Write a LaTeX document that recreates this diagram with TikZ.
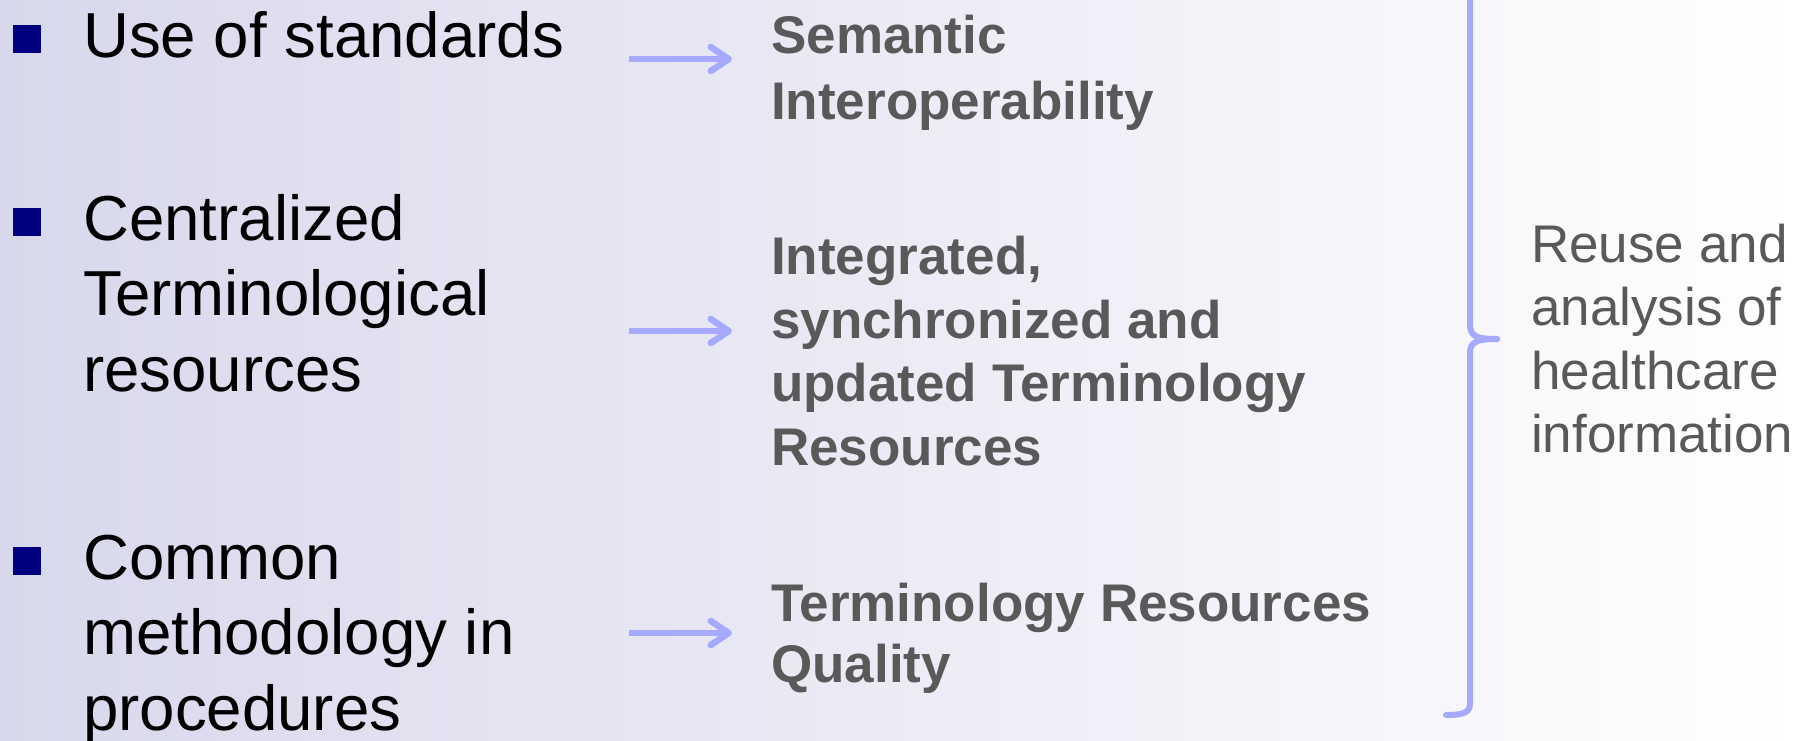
\documentclass[tikz,border=0pt]{standalone}
\usepackage{fontspec}
\setmainfont{Liberation Sans}
\usetikzlibrary{arrows.meta}
\definecolor{bulletblue}{RGB}{0,0,128}
\definecolor{peri}{RGB}{165,170,255}
\definecolor{txtgray}{RGB}{89,89,89}
\definecolor{bgleft}{RGB}{216,216,236}
\begin{document}
\begin{tikzpicture}[x=1pt,y=-1pt,
  lefttxt/.style={anchor=base west, inner sep=0pt, font=\fontsize{63.6}{76}\selectfont, text=black},
  midtxt/.style={anchor=base west, inner sep=0pt, font=\bfseries\fontsize{53}{63.6}\selectfont, text=txtgray},
  righttxt/.style={anchor=base west, inner sep=0pt, font=\fontsize{53}{63.6}\selectfont, text=txtgray},
  bulletsq/.style={fill=bulletblue, draw=none, minimum size=28pt, inner sep=0pt, anchor=south west},
  flowarrow/.style={draw=peri, line width=6.5pt, -{Straight Barb[length=18pt,width=24pt,round]}},
  bracestyle/.style={draw=peri, line width=6pt, line cap=round, line join=round}
]
\shade[left color=bgleft, right color=white] (0,0) rectangle (1804,740);
\useasboundingbox (0,0) rectangle (1804,740);

% left column
\node[bulletsq] (b1) at (13,53) {};
\node[lefttxt] (l1) at (83,57) {Use of standards};

\node[bulletsq] (b2) at (13,236) {};
\node[lefttxt] (l2a) at (83,240) {Centralized};
\node[lefttxt] (l2b) at (83,315.5) {Terminological};
\node[lefttxt] (l2c) at (83,391) {resources};

\node[bulletsq] (b3) at (13,575) {};
\node[lefttxt] (l3a) at (83,579) {Common};
\node[lefttxt] (l3b) at (83,654.5) {methodology in};
\node[lefttxt] (l3c) at (83,730) {procedures};

% middle column
\node[midtxt] (m1a) at (771,53.5) {Semantic};
\node[midtxt] (m1b) at (771,119) {Interoperability};

\node[midtxt] (m2a) at (771,274.5) {Integrated,};
\node[midtxt] (m2b) at (771,338) {synchronized and};
\node[midtxt] (m2c) at (771,401.5) {updated Terminology};
\node[midtxt] (m2d) at (771,465) {Resources};

\node[midtxt] (m3a) at (771,621) {Terminology Resources};
\node[midtxt] (m3b) at (771,682) {Quality};

% right column
\node[righttxt] (r1) at (1531,262) {Reuse and};
\node[righttxt] (r2) at (1531,325.5) {analysis of};
\node[righttxt] (r3) at (1531,389) {healthcare};
\node[righttxt] (r4) at (1531,452.5) {information};

% arrows
\coordinate (a1s) at (629,59);  \coordinate (a1e) at (732,59);
\coordinate (a2s) at (629,331); \coordinate (a2e) at (732,331);
\coordinate (a3s) at (629,633); \coordinate (a3e) at (732,633);
\draw[flowarrow] (a1s) -- (a1e);
\draw[flowarrow] (a2s) -- (a2e);
\draw[flowarrow] (a3s) -- (a3e);

% brace
\coordinate (cusp) at (1497,339);
\draw[bracestyle] (1470,-20) -- (1470,324) .. controls (1470,335) and (1474,339) .. (cusp);
\draw[bracestyle] (cusp) .. controls (1474,339) and (1470,343) .. (1470,354) -- (1470,703) .. controls (1470,712) and (1465,715) .. (1446,715);
\end{tikzpicture}
\end{document}
